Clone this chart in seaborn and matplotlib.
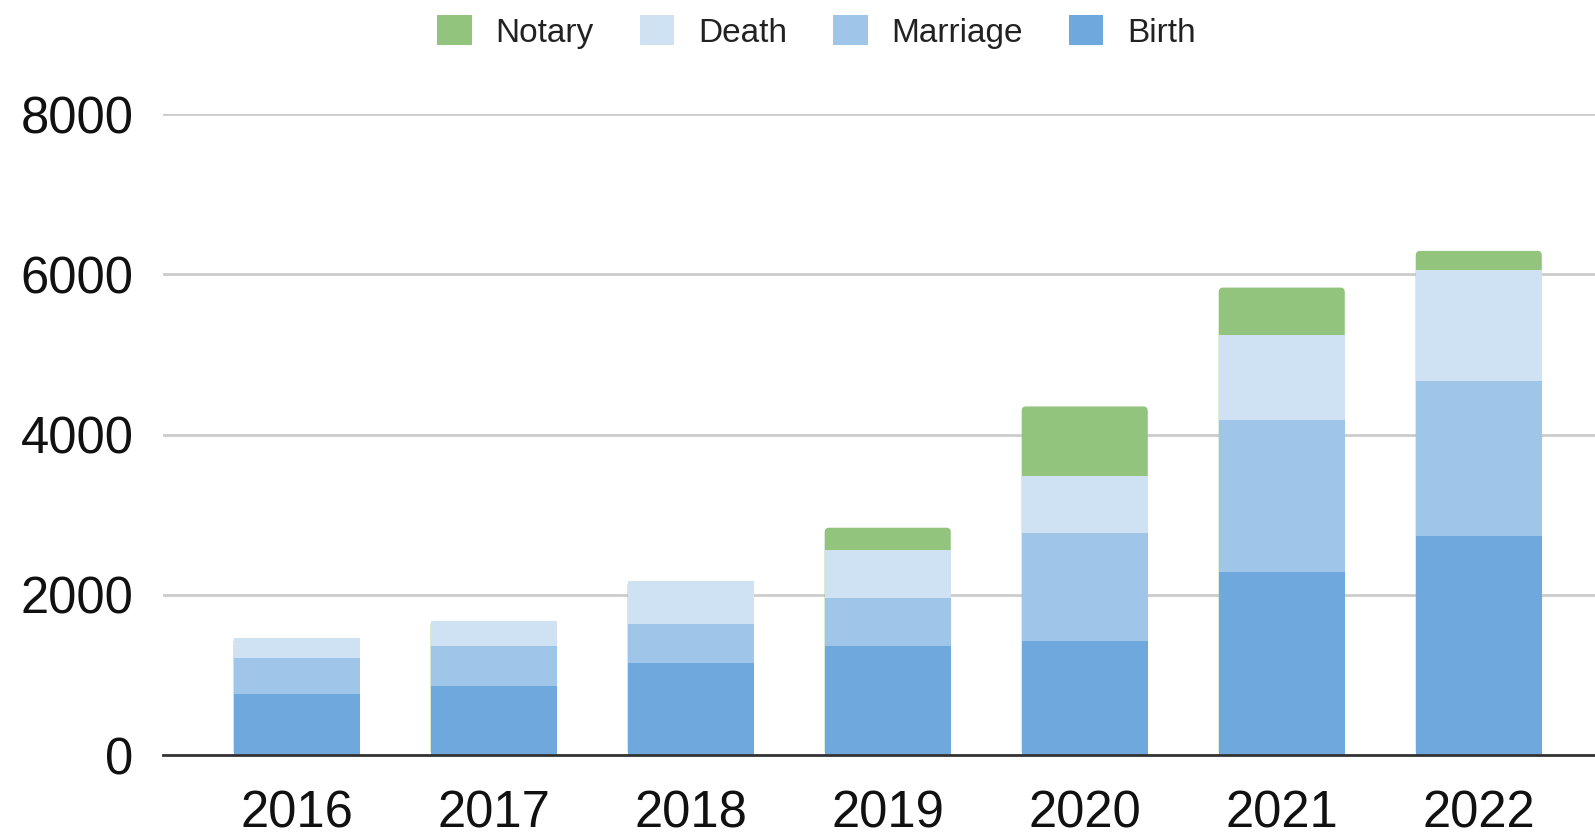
import numpy as np
import matplotlib
matplotlib.use("Agg")
import matplotlib.pyplot as plt
from matplotlib.patches import Patch, FancyBboxPatch
import seaborn as sns

# Values
years = ["2016", "2017", "2018", "2019", "2020", "2021", "2022"]
birth = [756, 864, 1148, 1359, 1426, 2279, 2732]
marriage = [459, 493, 489, 602, 1345, 1904, 1938]
death = [246, 317, 534, 593, 708, 1055, 1383]
notary = [0, 0, 0, 284, 873, 598, 241]

series_names = ["Birth", "Marriage", "Death", "Notary"]
series_colors = ["#6fa8dc", "#9fc5e8", "#cfe2f3", "#93c47d"]

sns.set_theme(style="white")
plt.rcParams["font.family"] = ["Liberation Sans", "DejaVu Sans"]

fig = plt.figure(figsize=(15.95, 8.34), dpi=100)
ax = fig.add_axes([0.102, 0.0947, 0.898, 0.7683])
ax.set_ylim(0, 8000)
ax.set_xlim(-0.68, 6.59)

# stacked bars drawn as cumulative totals, tallest first
layers = np.cumsum(np.array([birth, marriage, death, notary]), axis=0)
for i, (cum, color) in enumerate(reversed(list(zip(layers, series_colors)))):
    sns.barplot(x=years, y=cum, color=color, saturation=1, width=0.64,
                errorbar=None, ax=ax, zorder=3, linewidth=0)
    if i == 0:
        # give the top segment slightly rounded corners
        for bar in list(ax.patches):
            fb = FancyBboxPatch((bar.get_x(), bar.get_y()), bar.get_width(),
                                bar.get_height(),
                                boxstyle="round,pad=0,rounding_size=0.022",
                                mutation_aspect=2460, facecolor=color,
                                edgecolor="none", zorder=3)
            bar.remove()
            ax.add_patch(fb)

ax.set_ylim(0, 8000)
ax.set_xlim(-0.68, 6.59)
ax.set_yticks([0, 2000, 4000, 6000, 8000])
ax.yaxis.grid(True, color="#cccccc", linewidth=2, zorder=0)
ax.set_axisbelow(True)
for side in ["top", "right", "left"]:
    ax.spines[side].set_visible(False)
ax.spines["bottom"].set_color("#333333")
ax.spines["bottom"].set_linewidth(2)
ax.spines["bottom"].set_zorder(4)
ax.tick_params(axis="both", length=0, labelsize=36.5, colors="#111111")
ax.tick_params(axis="y", pad=21)
ax.tick_params(axis="x", pad=25)
ax.set_xlabel("")
ax.set_ylabel("")

handles = [Patch(facecolor=c, edgecolor="none", label=n)
           for n, c in zip(series_names, series_colors)][::-1]
fig.legend(handles=handles, loc="center", bbox_to_anchor=(0.512, 0.962),
           ncol=4, frameon=False, fontsize=24, handlelength=1.03,
           handleheight=1.03, handletextpad=0.72, columnspacing=1.38,
           labelcolor="#222222")

fig.savefig("out.png", dpi=100)
